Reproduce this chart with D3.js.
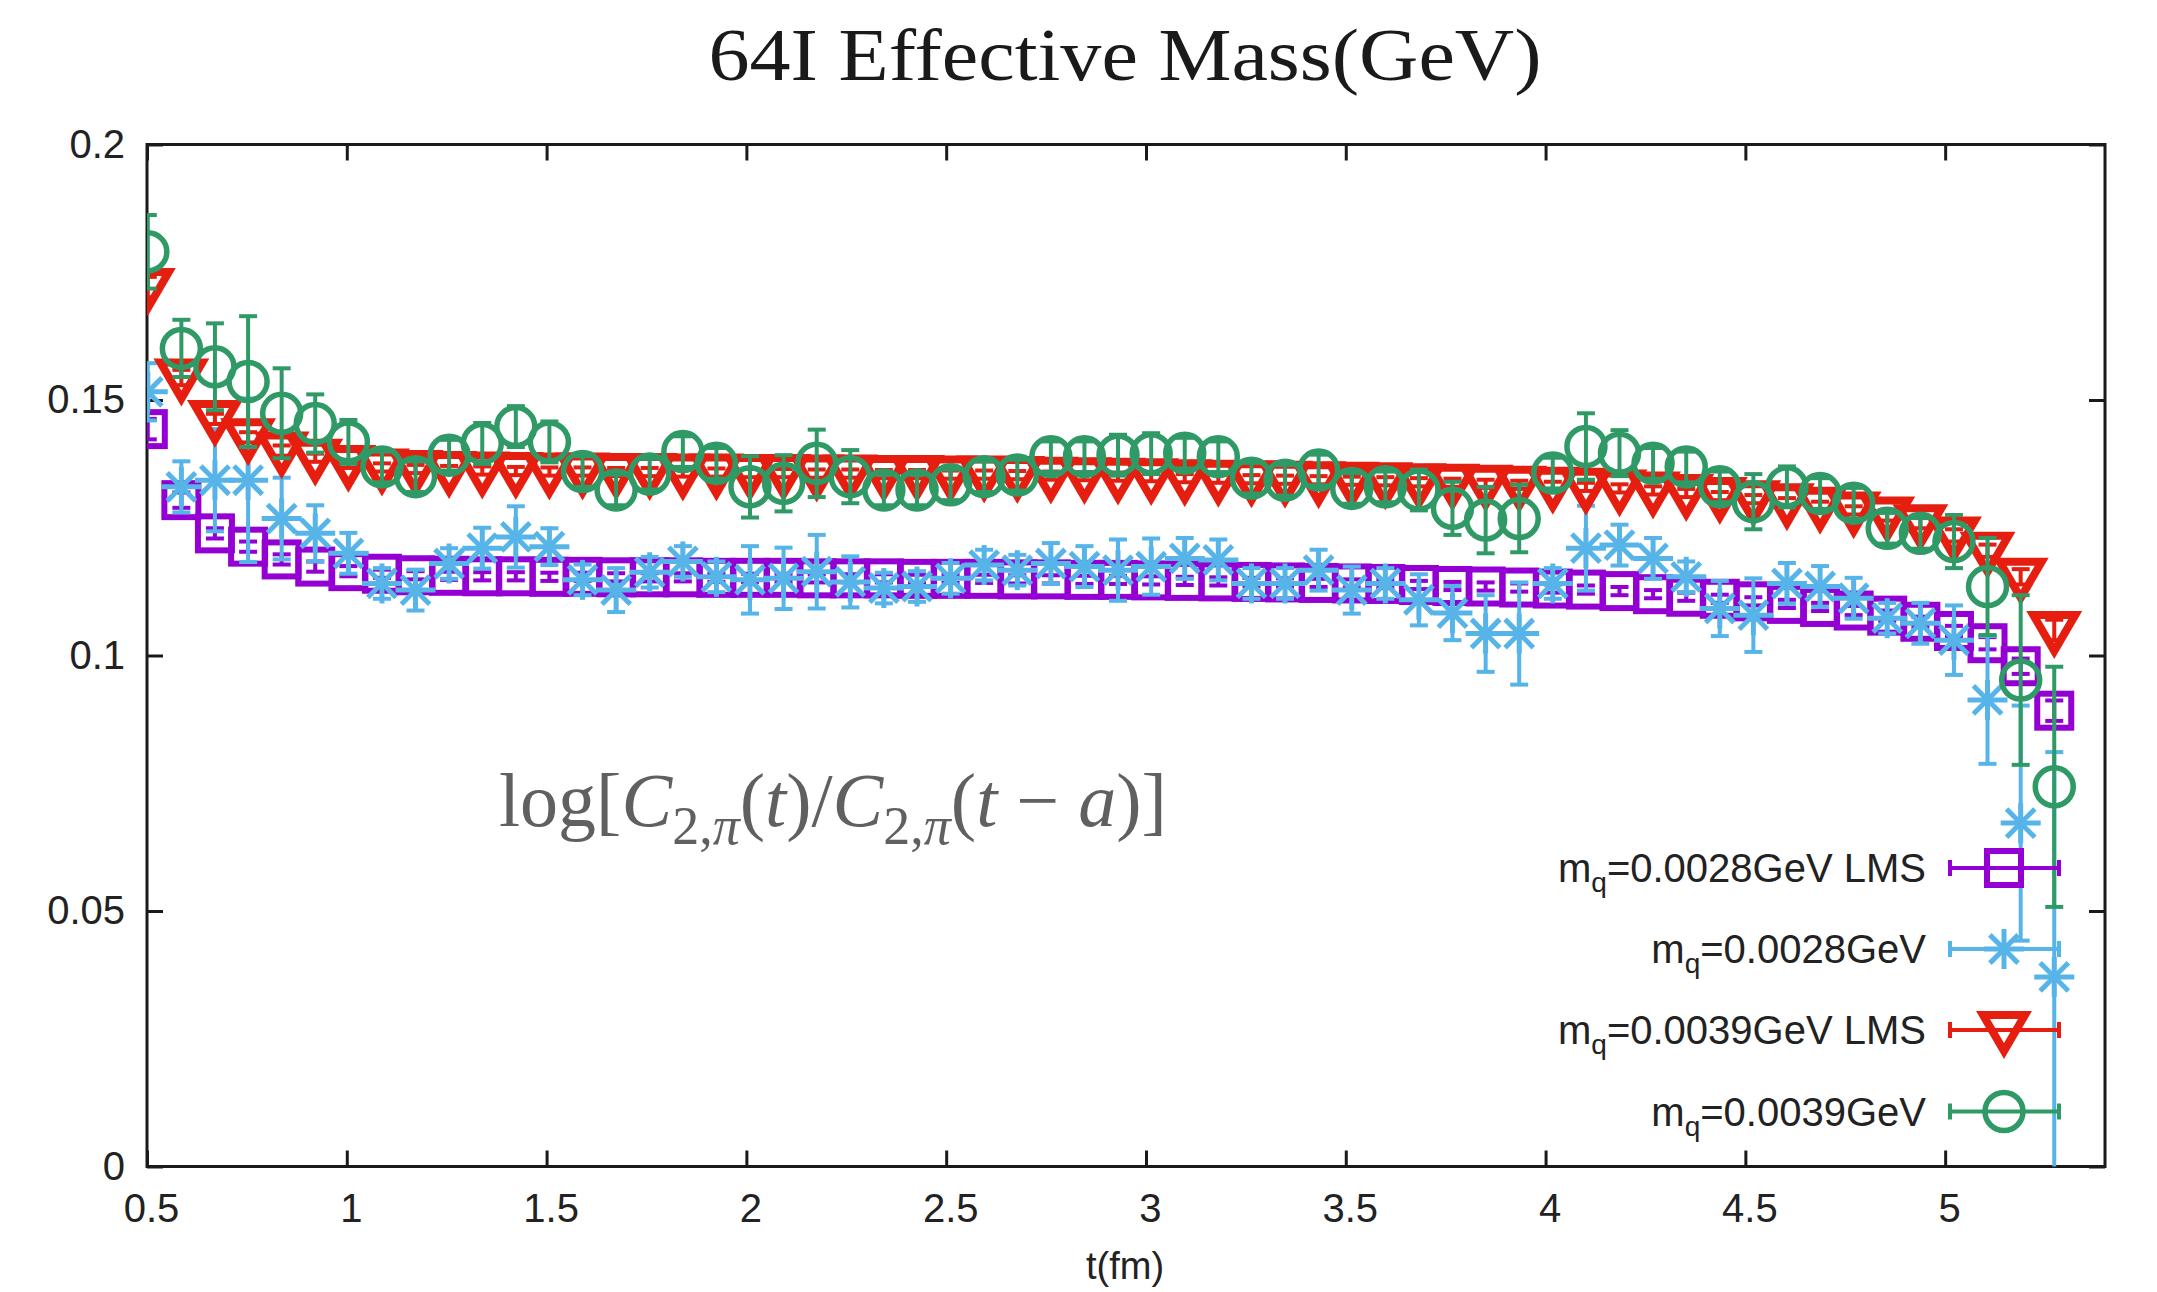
<!DOCTYPE html>
<html>
<head>
<meta charset="utf-8">
<script src="https://cdn.jsdelivr.net/npm/d3@7"></script>
<style>
  html, body { margin: 0; padding: 0; background: #ffffff; }
  svg { display: block; }
</style>
</head>
<body>
<svg id="chart" width="2157" height="1292"></svg>
<script>
// ---------------- DATA ----------------
const chartTitle = "64I Effective Mass(GeV)";
const xAxisLabel = "t(fm)";
const xTicks = [0.5, 1, 1.5, 2, 2.5, 3, 3.5, 4, 4.5, 5];
const xTickLabels = ["0.5", "1", "1.5", "2", "2.5", "3", "3.5", "4", "4.5", "5"];
const yTicks = [0, 0.05, 0.1, 0.15, 0.2];
const yTickLabels = ["0", "0.05", "0.1", "0.15", "0.2"];

// time slices t (fm)
const tValues = [0.502, 0.586, 0.670, 0.753, 0.837, 0.921, 1.004, 1.088, 1.172, 1.256,
  1.339, 1.423, 1.507, 1.590, 1.674, 1.758, 1.841, 1.925, 2.009, 2.093,
  2.176, 2.260, 2.344, 2.427, 2.511, 2.595, 2.678, 2.762, 2.846, 2.930,
  3.013, 3.097, 3.181, 3.264, 3.348, 3.432, 3.515, 3.599, 3.683, 3.767,
  3.850, 3.934, 4.018, 4.101, 4.185, 4.269, 4.352, 4.436, 4.520, 4.604,
  4.687, 4.771, 4.855, 4.938, 5.022, 5.106, 5.189, 5.273];

// m_q=0.0028GeV LMS (purple squares)
const lms0028 = [0.1443, 0.1304, 0.1239, 0.1213, 0.1188, 0.1174, 0.1165, 0.1160, 0.1157, 0.1156,
  0.1155, 0.1155, 0.1154, 0.1154, 0.1153, 0.1153, 0.1153, 0.1152, 0.1152, 0.1152,
  0.1151, 0.1151, 0.1151, 0.1150, 0.1150, 0.1150, 0.1149, 0.1149, 0.1148, 0.1148,
  0.1147, 0.1146, 0.1145, 0.1144, 0.1143, 0.1142, 0.1141, 0.1140, 0.1138, 0.1136,
  0.1135, 0.1133, 0.1131, 0.1129, 0.1126, 0.1120, 0.1115, 0.1111, 0.1106, 0.1101,
  0.1095, 0.1088, 0.1078, 0.1066, 0.1048, 0.1024, 0.0979, 0.0892];
const lms0028Err = [0.0020, 0.0015, 0.0010, 0.0010, 0.0010, 0.0010, 0.0010, 0.0008, 0.0008, 0.0008,
  0.0008, 0.0008, 0.0008, 0.0008, 0.0008, 0.0008, 0.0008, 0.0008, 0.0008, 0.0008,
  0.0008, 0.0008, 0.0008, 0.0008, 0.0008, 0.0008, 0.0008, 0.0008, 0.0008, 0.0008,
  0.0008, 0.0008, 0.0008, 0.0008, 0.0008, 0.0008, 0.0008, 0.0008, 0.0008, 0.0008,
  0.0008, 0.0008, 0.0008, 0.0008, 0.0008, 0.0008, 0.0008, 0.0008, 0.0008, 0.0008,
  0.0008, 0.0009, 0.0010, 0.0010, 0.0010, 0.0012, 0.0015, 0.0020];

// m_q=0.0028GeV (sky-blue asterisks)
const pt0028 = [0.1516, 0.1330, 0.1343, 0.1343, 0.1268, 0.1239, 0.1200, 0.1141, 0.1128, 0.1180,
  0.1210, 0.1232, 0.1213, 0.1148, 0.1128, 0.1163, 0.1184, 0.1154, 0.1148, 0.1151,
  0.1164, 0.1144, 0.1132, 0.1135, 0.1151, 0.1177, 0.1167, 0.1180, 0.1174, 0.1167,
  0.1174, 0.1190, 0.1187, 0.1141, 0.1141, 0.1167, 0.1128, 0.1141, 0.1109, 0.1083,
  0.1043, 0.1043, 0.1141, 0.1210, 0.1216, 0.1190, 0.1154, 0.1092, 0.1079, 0.1141,
  0.1135, 0.1112, 0.1073, 0.1063, 0.1030, 0.0913, 0.0672, 0.0371];
const pt0028Err = [0.0056, 0.0050, 0.0100, 0.0160, 0.0080, 0.0055, 0.0040, 0.0030, 0.0040, 0.0030,
  0.0040, 0.0060, 0.0036, 0.0030, 0.0043, 0.0030, 0.0030, 0.0030, 0.0066, 0.0060,
  0.0072, 0.0050, 0.0030, 0.0030, 0.0030, 0.0030, 0.0030, 0.0040, 0.0040, 0.0060,
  0.0055, 0.0040, 0.0040, 0.0030, 0.0030, 0.0040, 0.0046, 0.0030, 0.0050, 0.0053,
  0.0075, 0.0100, 0.0030, 0.0083, 0.0040, 0.0040, 0.0030, 0.0054, 0.0072, 0.0040,
  0.0040, 0.0040, 0.0030, 0.0040, 0.0068, 0.0125, 0.0230, 0.0440];

// m_q=0.0039GeV LMS (red triangles)
const lms0039 = [0.1721, 0.1544, 0.1463, 0.1427, 0.1401, 0.1387, 0.1375, 0.1368, 0.1365, 0.1363,
  0.1362, 0.1361, 0.1360, 0.1360, 0.1359, 0.1359, 0.1358, 0.1358, 0.1357, 0.1357,
  0.1356, 0.1356, 0.1355, 0.1355, 0.1354, 0.1354, 0.1353, 0.1352, 0.1351, 0.1350,
  0.1349, 0.1347, 0.1346, 0.1345, 0.1344, 0.1343, 0.1342, 0.1341, 0.1339, 0.1338,
  0.1336, 0.1334, 0.1332, 0.1330, 0.1327, 0.1323, 0.1318, 0.1312, 0.1306, 0.1300,
  0.1293, 0.1284, 0.1274, 0.1259, 0.1235, 0.1205, 0.1154, 0.1050];
const lms0039Err = [0.0020, 0.0015, 0.0010, 0.0010, 0.0010, 0.0008, 0.0008, 0.0008, 0.0008, 0.0008,
  0.0008, 0.0008, 0.0008, 0.0008, 0.0008, 0.0008, 0.0008, 0.0008, 0.0008, 0.0008,
  0.0008, 0.0008, 0.0008, 0.0008, 0.0008, 0.0008, 0.0008, 0.0008, 0.0008, 0.0008,
  0.0008, 0.0008, 0.0008, 0.0008, 0.0008, 0.0008, 0.0008, 0.0008, 0.0008, 0.0008,
  0.0008, 0.0008, 0.0008, 0.0008, 0.0008, 0.0008, 0.0008, 0.0008, 0.0008, 0.0008,
  0.0008, 0.0008, 0.0010, 0.0010, 0.0012, 0.0012, 0.0015, 0.0020];

// m_q=0.0039GeV (green circles)
const pt0039 = [0.1790, 0.1601, 0.1565, 0.1536, 0.1474, 0.1454, 0.1418, 0.1369, 0.1350, 0.1392,
  0.1415, 0.1448, 0.1418, 0.1360, 0.1324, 0.1355, 0.1399, 0.1376, 0.1330, 0.1337,
  0.1376, 0.1350, 0.1324, 0.1324, 0.1334, 0.1350, 0.1353, 0.1389, 0.1389, 0.1392,
  0.1395, 0.1396, 0.1389, 0.1347, 0.1343, 0.1363, 0.1327, 0.1330, 0.1324, 0.1288,
  0.1265, 0.1268, 0.1357, 0.1409, 0.1396, 0.1376, 0.1369, 0.1330, 0.1301, 0.1330,
  0.1317, 0.1298, 0.1249, 0.1239, 0.1223, 0.1135, 0.0952, 0.0743];
const pt0039Err = [0.0072, 0.0056, 0.0085, 0.0128, 0.0088, 0.0057, 0.0043, 0.0030, 0.0030, 0.0030,
  0.0040, 0.0040, 0.0040, 0.0030, 0.0030, 0.0030, 0.0030, 0.0030, 0.0060, 0.0055,
  0.0066, 0.0052, 0.0030, 0.0030, 0.0030, 0.0030, 0.0030, 0.0030, 0.0030, 0.0040,
  0.0040, 0.0030, 0.0030, 0.0030, 0.0030, 0.0030, 0.0030, 0.0030, 0.0040, 0.0052,
  0.0065, 0.0066, 0.0030, 0.0065, 0.0045, 0.0030, 0.0030, 0.0030, 0.0054, 0.0040,
  0.0030, 0.0030, 0.0030, 0.0030, 0.0052, 0.0095, 0.0166, 0.0235];

const seriesNames = ["0.0028GeV LMS", "0.0028GeV", "0.0039GeV LMS", "0.0039GeV"];
const seriesColors = ["#9400d3", "#56b4e9", "#e51e10", "#2f9a66"];
const seriesShapes = ["square", "asterisk", "triangle", "circle"];

// ---------------- CHART ----------------
const svg = d3.select("#chart");
const W = 2157, H = 1292;
const plot = { left: 147, right: 2105, top: 144.5, bottom: 1166.5 };

const x = d3.scaleLinear().domain([0.5, 5.4]).range([plot.left, plot.right]);
const y = d3.scaleLinear().domain([0, 0.2]).range([plot.bottom, plot.top]);

svg.append("rect").attr("width", W).attr("height", H).attr("fill", "#ffffff");

// title
svg.append("text")
  .attr("x", 1125).attr("y", 80)
  .attr("text-anchor", "middle")
  .attr("font-family", "'Liberation Serif', 'Times New Roman', serif")
  .attr("font-size", 75)
  .attr("textLength", 833).attr("lengthAdjust", "spacingAndGlyphs")
  .attr("fill", "#1a1a1a")
  .text(chartTitle);

const tickFont = "'Liberation Sans', Arial, Helvetica, sans-serif";
const axisColor = "#1a1a1a";

function styleAxis(g) {
  g.select(".domain").remove();
  g.selectAll(".tick line").attr("stroke", axisColor).attr("stroke-width", 3);
  g.selectAll(".tick text").attr("font-family", tickFont).attr("font-size", 40).attr("fill", "#222");
}

// bottom axis
svg.append("g").attr("transform", `translate(0,${plot.bottom})`)
  .call(d3.axisBottom(x).tickValues(xTicks).tickFormat((d, i) => xTickLabels[i])
    .tickSizeInner(-16).tickSizeOuter(0).tickPadding(27))
  .call(styleAxis)
  .call(g => g.selectAll(".tick text").attr("dx", 4));
// top axis (mirror ticks)
svg.append("g").attr("transform", `translate(0,${plot.top})`)
  .call(d3.axisTop(x).tickValues(xTicks).tickFormat("").tickSizeInner(-16).tickSizeOuter(0))
  .call(styleAxis);
// left axis
svg.append("g").attr("transform", `translate(${plot.left},0)`)
  .call(d3.axisLeft(y).tickValues(yTicks).tickFormat((d, i) => yTickLabels[i])
    .tickSizeInner(-16).tickSizeOuter(0).tickPadding(22))
  .call(styleAxis);
// right axis (mirror ticks)
svg.append("g").attr("transform", `translate(${plot.right},0)`)
  .call(d3.axisRight(y).tickValues(yTicks).tickFormat("").tickSizeInner(-16).tickSizeOuter(0))
  .call(styleAxis);

// frame
svg.append("rect")
  .attr("x", plot.left).attr("y", plot.top)
  .attr("width", plot.right - plot.left).attr("height", plot.bottom - plot.top)
  .attr("fill", "none").attr("stroke", axisColor).attr("stroke-width", 3);

// x-axis label
svg.append("text")
  .attr("x", 1125).attr("y", 1279)
  .attr("text-anchor", "middle")
  .attr("font-family", tickFont).attr("font-size", 38).attr("fill", "#222")
  .text(xAxisLabel);

// formula annotation
const formula = svg.append("text")
  .attr("x", 499).attr("y", 826)
  .attr("font-family", "'Liberation Serif', 'Times New Roman', serif")
  .attr("font-size", 76).attr("fill", "#606060");
const fparts = [
  { t: "log[" }, { t: "C", i: true }, { t: "2,", s: true }, { t: "π", s: true, i: true },
  { t: "(" }, { t: "t", i: true }, { t: ")/" }, { t: "C", i: true },
  { t: "2,", s: true }, { t: "π", s: true, i: true }, { t: "(" }, { t: "t", i: true },
  { t: " − " }, { t: "a", i: true }, { t: ")]" }
];
let prevSub = false;
fparts.forEach(p => {
  const ts = formula.append("tspan").text(p.t);
  if (p.i) ts.attr("font-style", "italic");
  if (p.s) {
    ts.attr("font-size", 54);
    if (!prevSub) ts.attr("dy", 18);
    prevSub = true;
  } else {
    if (prevSub) ts.attr("dy", -18);
    prevSub = false;
  }
});

// clip
svg.append("clipPath").attr("id", "plotClip")
  .append("rect").attr("x", plot.left).attr("y", plot.top)
  .attr("width", plot.right - plot.left).attr("height", plot.bottom - plot.top);

function drawMarker(g, shape, color, cx, cy) {
  if (shape === "square") {
    g.append("rect").attr("x", cx - 17).attr("y", cy - 17).attr("width", 34).attr("height", 34)
      .attr("fill", "none").attr("stroke", color).attr("stroke-width", 6);
  } else if (shape === "circle") {
    g.append("circle").attr("cx", cx).attr("cy", cy).attr("r", 19)
      .attr("fill", "none").attr("stroke", color).attr("stroke-width", 5.5);
  } else if (shape === "triangle") {
    const p = `M${cx - 21},${cy - 15}L${cx + 21},${cy - 15}L${cx},${cy + 21}Z`;
    g.append("path").attr("d", p).attr("fill", "none").attr("stroke", color)
      .attr("stroke-width", 8).attr("stroke-linejoin", "miter");
  } else if (shape === "asterisk") {
    const r = 20;
    [0, 45, 90, 135].forEach(a => {
      const rad = a * Math.PI / 180;
      const dx = r * Math.cos(rad), dy = r * Math.sin(rad);
      g.append("line").attr("x1", cx - dx).attr("y1", cy - dy).attr("x2", cx + dx).attr("y2", cy + dy)
        .attr("stroke", color).attr("stroke-width", 5);
    });
  }
}

function drawErr(g, color, cx, yTop, yBot, cap) {
  g.append("line").attr("x1", cx).attr("x2", cx).attr("y1", yTop).attr("y2", yBot)
    .attr("stroke", color).attr("stroke-width", 4);
  g.append("line").attr("x1", cx - cap).attr("x2", cx + cap).attr("y1", yTop).attr("y2", yTop)
    .attr("stroke", color).attr("stroke-width", 4);
  g.append("line").attr("x1", cx - cap).attr("x2", cx + cap).attr("y1", yBot).attr("y2", yBot)
    .attr("stroke", color).attr("stroke-width", 4);
}

const seriesVals = [lms0028, pt0028, lms0039, pt0039];
const seriesErrs = [lms0028Err, pt0028Err, lms0039Err, pt0039Err];

const dataG = svg.append("g").attr("clip-path", "url(#plotClip)");
seriesVals.forEach((vals, si) => {
  const g = dataG.append("g").attr("class", "series-" + si);
  const color = seriesColors[si];
  vals.forEach((v, i) => {
    const cx = x(tValues[i]);
    const e = seriesErrs[si][i];
    drawErr(g, color, cx, y(v + e), y(v - e), 9);
    drawMarker(g, seriesShapes[si], color, cx, y(v));
  });
});

// legend
const legendYs = [868, 949, 1030, 1111.5];
const legG = svg.append("g");
seriesNames.forEach((name, i) => {
  const ly = legendYs[i];
  const color = seriesColors[i];
  const txt = legG.append("text")
    .attr("x", 1926).attr("y", ly + 14)
    .attr("text-anchor", "end")
    .attr("font-family", tickFont).attr("font-size", 40).attr("fill", "#222");
  txt.append("tspan").text("m");
  txt.append("tspan").attr("font-size", 28).attr("dy", 10).text("q");
  txt.append("tspan").attr("dy", -10).text("=" + name);
  // errorbar sample
  legG.append("line").attr("x1", 1950).attr("x2", 2059).attr("y1", ly).attr("y2", ly)
    .attr("stroke", color).attr("stroke-width", 4);
  [1950, 2059].forEach(ex => {
    legG.append("line").attr("x1", ex).attr("x2", ex).attr("y1", ly - 8).attr("y2", ly + 8)
      .attr("stroke", color).attr("stroke-width", 4);
  });
  drawMarker(legG, seriesShapes[i], color, 2004, ly);
});
</script>
</body>
</html>
